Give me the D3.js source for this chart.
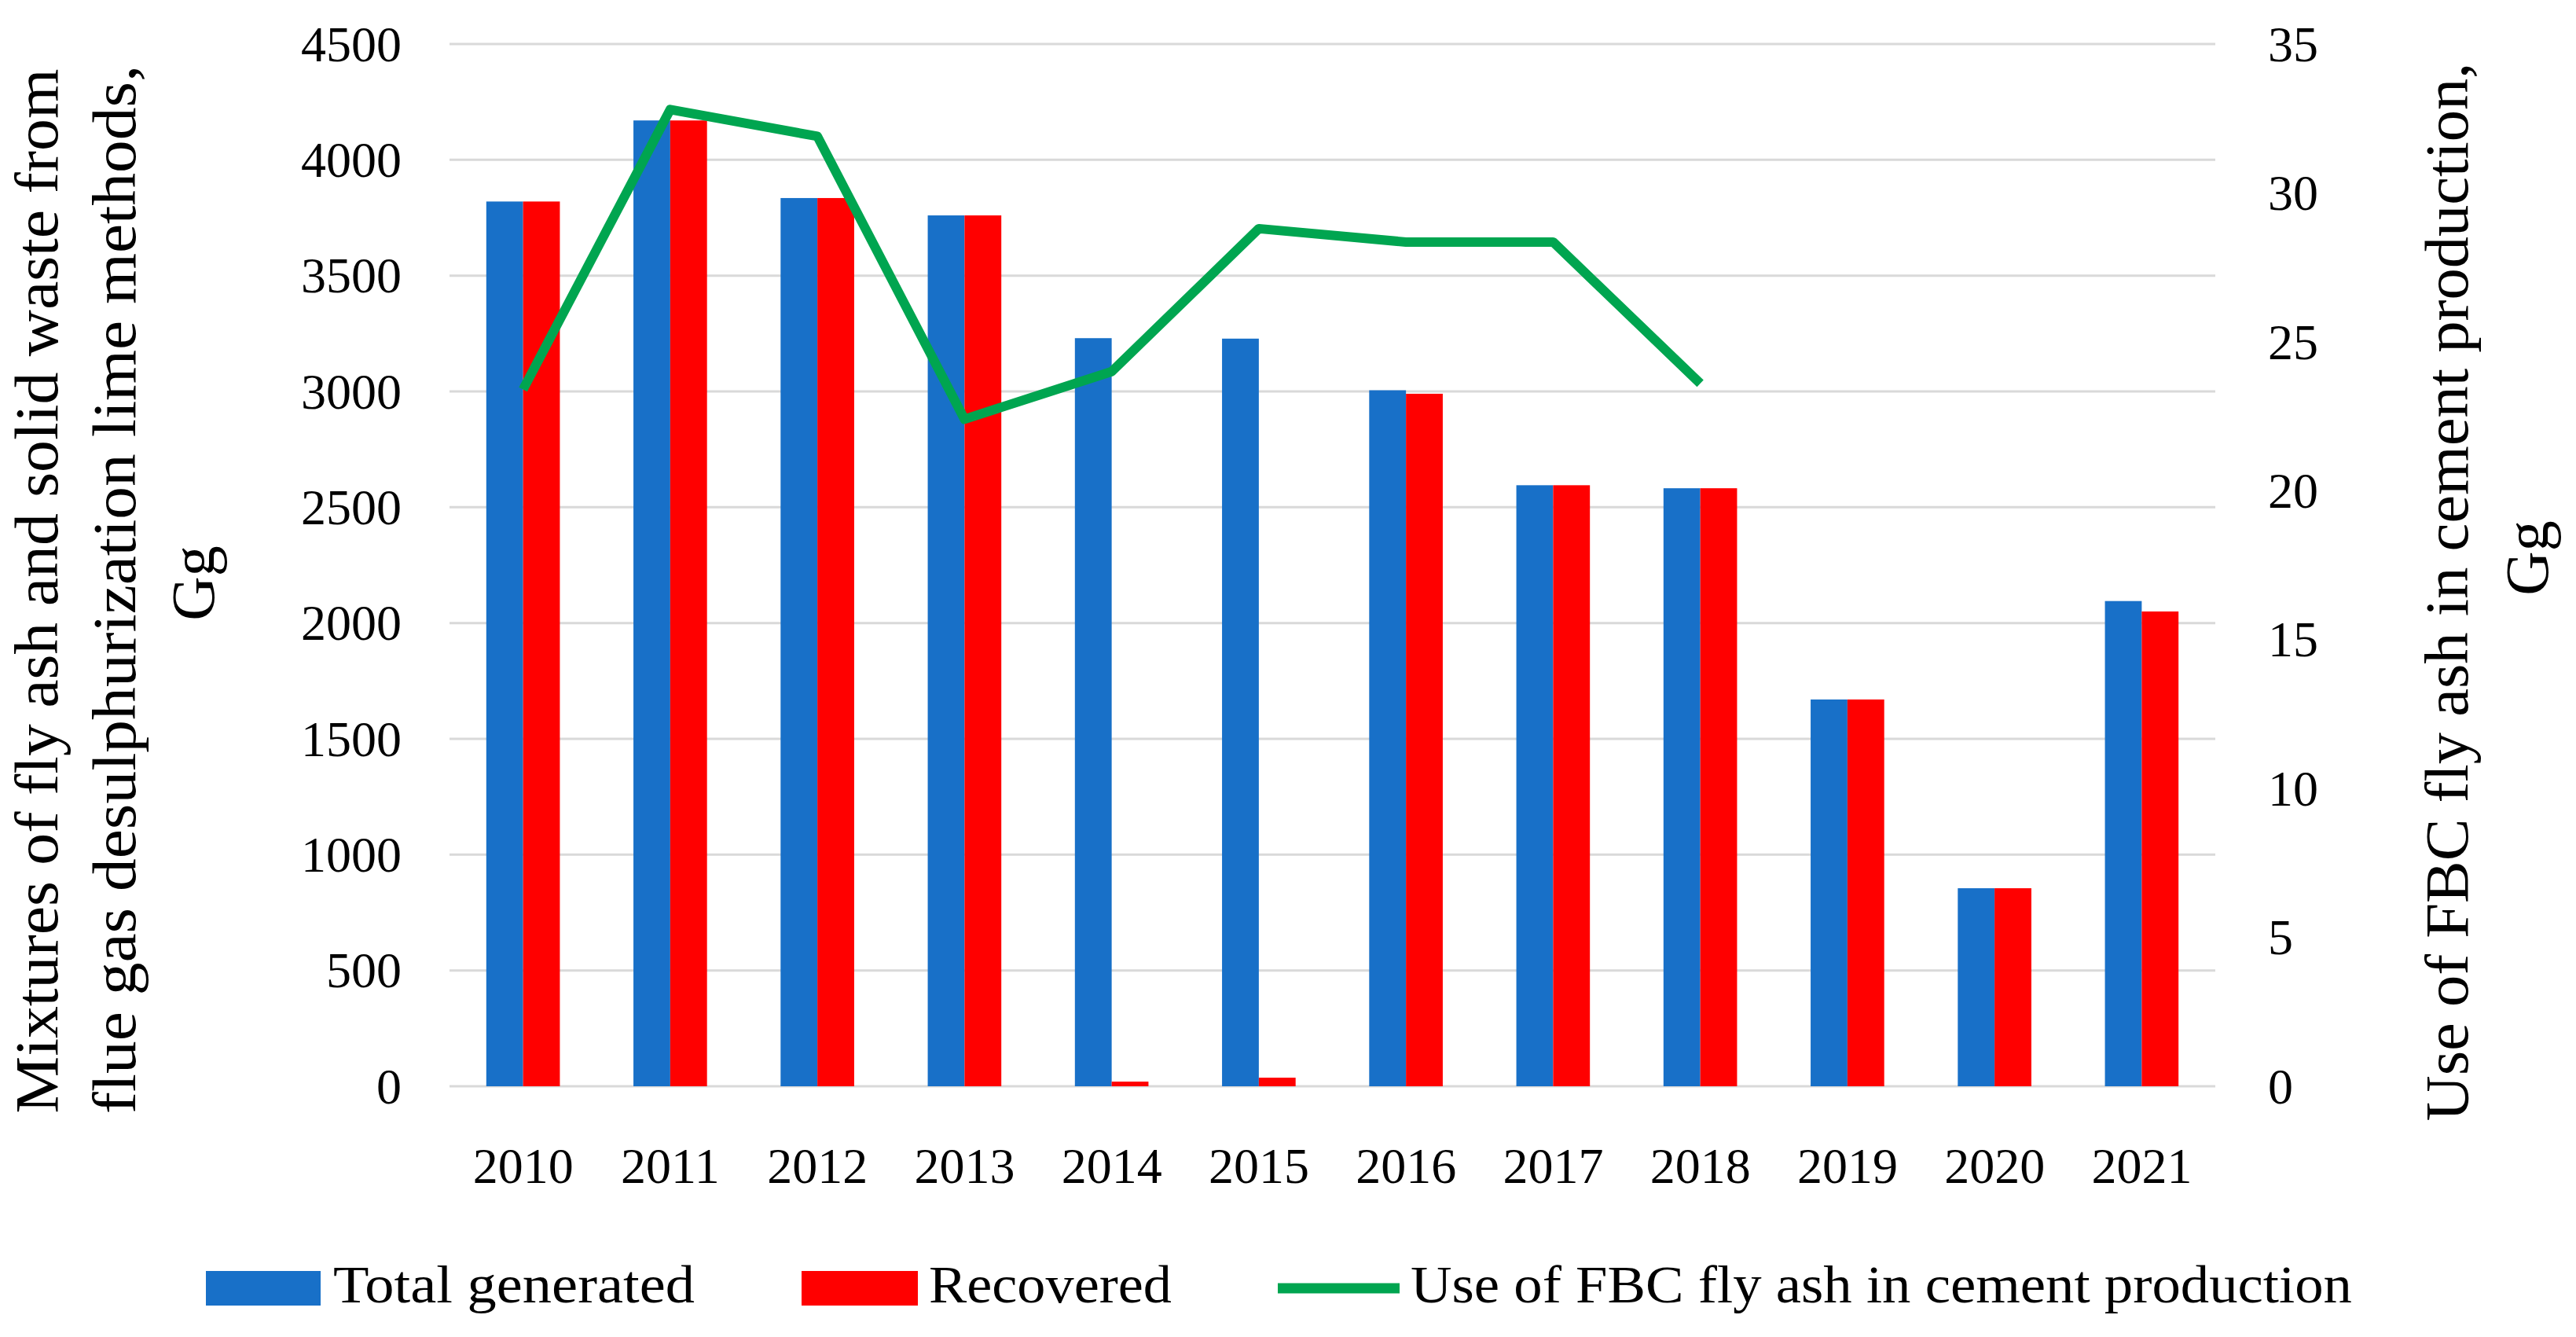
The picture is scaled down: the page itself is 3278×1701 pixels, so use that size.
<!doctype html>
<html lang="en">
<head>
    <meta charset="utf-8">
    <title>Fly ash chart</title>
    <script src="https://cdnjs.cloudflare.com/ajax/libs/d3/7.8.5/d3.min.js" type="text/JavaScript"></script>
    <style>
        body { margin: 0; background: #fff; }
        svg text { font-family: "Liberation Serif", "DejaVu Serif", serif; fill: #000; }
    </style>
</head>
<body>
<script>

    // data
    const years = ["2010", "2011", "2012", "2013", "2014", "2015", "2016", "2017", "2018", "2019", "2020", "2021"];
    const totalGenerated = [3820, 4170, 3835, 3760, 3230, 3228, 3005, 2595, 2582, 1670, 855, 2095];
    const recovered = [3820, 4170, 3835, 3760, 20, 37, 2990, 2595, 2582, 1670, 855, 2050];
    const fbcUse = [23.4, 32.8, 31.9, 22.4, 24.0, 28.8, 28.35, 28.35, 23.6, null, null, null];
    const leftTicks = [0, 500, 1000, 1500, 2000, 2500, 3000, 3500, 4000, 4500];
    const rightTicks = [0, 5, 10, 15, 20, 25, 30, 35];
    const seriesNames = ["Total generated", "Recovered", "Use of FBC fly ash in cement production"];

    const width = 3278, height = 1701;
    const plotLeft = 572, plotRight = 2819, plotTop = 56, plotBottom = 1382;
    const blue = "#1870c8", red = "#ff0000", green = "#00a550";

    const svg = d3.select("body").append("svg")
        .attr("width", width)
        .attr("height", height);

    const x0 = d3.scaleBand().domain(years).range([plotLeft, plotRight]);
    const x1 = d3.scaleBand().domain(["total", "recovered"])
        .range([x0.bandwidth() * 0.25, x0.bandwidth() * 0.75]);
    const yL = d3.scaleLinear().domain([0, 4500]).range([plotBottom, plotTop]);
    const yR = d3.scaleLinear().domain([0, 35]).range([plotBottom, plotTop]);

    // gridlines
    svg.append("g").selectAll("line")
        .data(leftTicks)
        .join("line")
        .attr("x1", plotLeft).attr("x2", plotRight)
        .attr("y1", d => yL(d)).attr("y2", d => yL(d))
        .attr("stroke", "#d9d9d9")
        .attr("stroke-width", 3);

    // left ticks
    svg.append("g").selectAll("text")
        .data(leftTicks)
        .join("text")
        .attr("x", 511)
        .attr("y", d => yL(d))
        .attr("dy", "0.34em")
        .attr("text-anchor", "end")
        .attr("font-size", 64)
        .text(d => d);

    // right ticks
    svg.append("g").selectAll("text")
        .data(rightTicks)
        .join("text")
        .attr("x", 2886)
        .attr("y", d => yR(d))
        .attr("dy", "0.34em")
        .attr("text-anchor", "start")
        .attr("font-size", 64)
        .text(d => d);

    // year labels
    svg.append("g").selectAll("text")
        .data(years)
        .join("text")
        .attr("x", d => x0(d) + x0.bandwidth() / 2)
        .attr("y", 1505)
        .attr("text-anchor", "middle")
        .attr("font-size", 64)
        .text(d => d);

    // bars
    const group = svg.append("g").selectAll("g")
        .data(years)
        .join("g")
        .attr("transform", d => `translate(${x0(d)},0)`);

    group.append("rect")
        .attr("x", x1("total"))
        .attr("width", x1.bandwidth())
        .attr("y", (d, i) => yL(totalGenerated[i]))
        .attr("height", (d, i) => plotBottom - yL(totalGenerated[i]))
        .attr("fill", blue);

    group.append("rect")
        .attr("x", x1("recovered"))
        .attr("width", x1.bandwidth())
        .attr("y", (d, i) => yL(recovered[i]))
        .attr("height", (d, i) => plotBottom - yL(recovered[i]))
        .attr("fill", red);

    // line on the right axis
    const line = d3.line()
        .defined(d => d[1] !== null)
        .x(d => x0(d[0]) + x0.bandwidth() / 2)
        .y(d => yR(d[1]));

    svg.append("path")
        .datum(years.map((y, i) => [y, fbcUse[i]]))
        .attr("d", line)
        .attr("fill", "none")
        .attr("stroke", green)
        .attr("stroke-width", 12)
        .attr("stroke-linejoin", "round");

    // axis titles
    const leftTitle = [
        ["Mixtures of fly ash and solid waste from", 73, 752, 1329],
        ["flue gas desulphurization lime methods,", 172, 750, 1334],
        ["Gg", 272, 742, null]
    ];
    const rightTitle = [
        ["Use of FBC fly ash in cement production,", 3140, 753, 1347],
        ["Gg", 3242, 710, null]
    ];

    svg.append("g").selectAll("text")
        .data(leftTitle.concat(rightTitle))
        .join("text")
        .attr("transform", d => `translate(${d[1]},${d[2]}) rotate(-90)`)
        .attr("text-anchor", "middle")
        .attr("font-size", 78)
        .each(function (d) {
            if (d[3]) d3.select(this).attr("textLength", d[3]).attr("lengthAdjust", "spacingAndGlyphs");
        })
        .text(d => d[0]);

    // legend
    const legend = svg.append("g");
    legend.append("rect").attr("x", 262).attr("y", 1617).attr("width", 146).attr("height", 44).attr("fill", blue);
    legend.append("rect").attr("x", 1020).attr("y", 1617).attr("width", 148).attr("height", 44).attr("fill", red);
    legend.append("line").attr("x1", 1626).attr("x2", 1781).attr("y1", 1639).attr("y2", 1639)
        .attr("stroke", green).attr("stroke-width", 13);

    const legendText = [[seriesNames[0], 424, 460], [seriesNames[1], 1182, 309], [seriesNames[2], 1795, 1198]];
    legend.selectAll("text")
        .data(legendText)
        .join("text")
        .attr("x", d => d[1])
        .attr("y", 1657)
        .attr("font-size", 68)
        .attr("textLength", d => d[2])
        .attr("lengthAdjust", "spacingAndGlyphs")
        .text(d => d[0]);

</script>
</body>
</html>
